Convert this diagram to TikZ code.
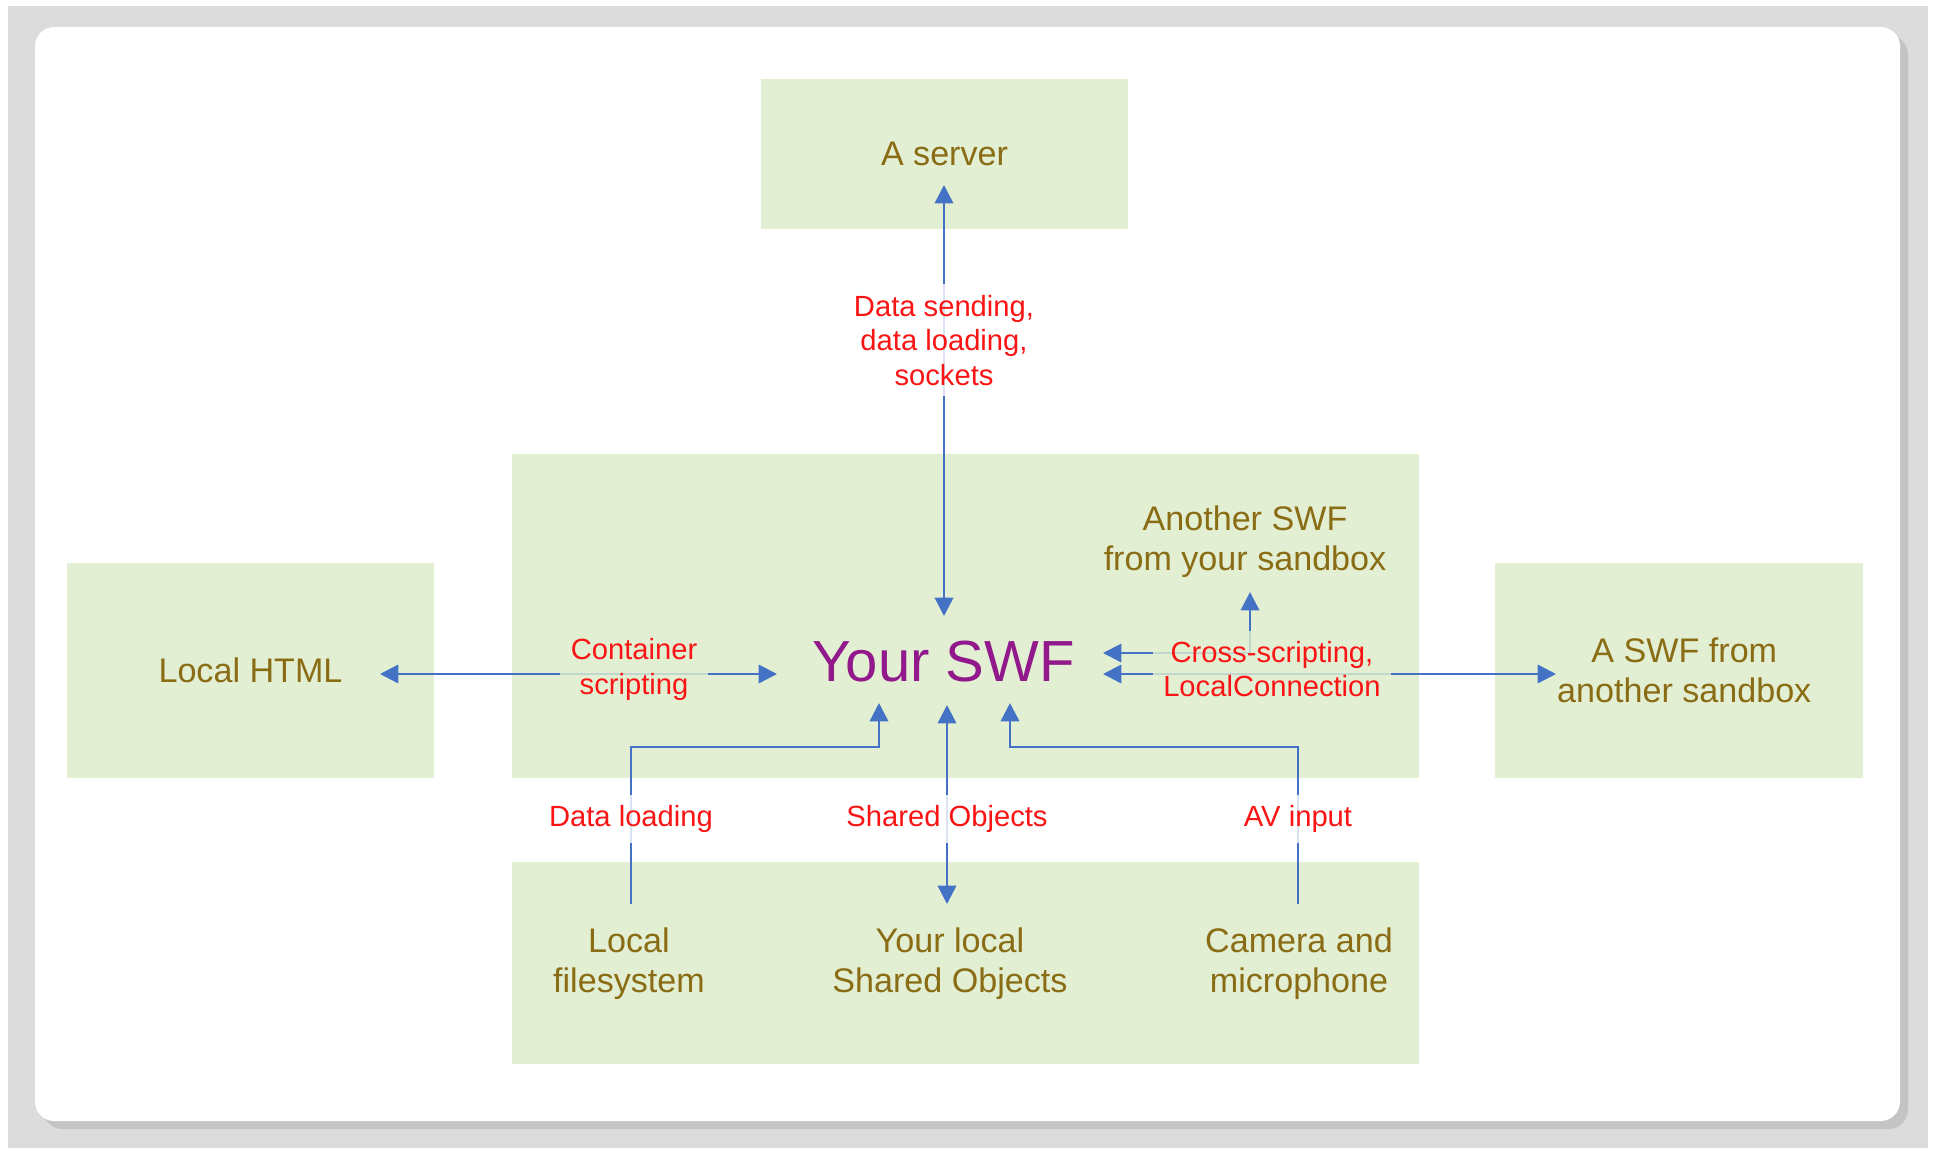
\documentclass[tikz,border=0pt]{standalone}
\usepackage{fontspec}
\setmainfont{Liberation Sans}
\usepackage{tikz}
\usetikzlibrary{arrows.meta}
\definecolor{boxgreen}{RGB}{226,239,211}
\definecolor{boxtext}{RGB}{138,108,20}
\definecolor{swfpurple}{RGB}{145,25,140}
\definecolor{flowblue}{RGB}{68,114,196}
\definecolor{labelred}{RGB}{250,20,20}
\definecolor{pagegray}{RGB}{220,220,220}
\definecolor{shadowgray}{RGB}{196,196,196}
\tikzset{
greenbox/.style={fill=boxgreen, inner sep=0pt, text=boxtext, font=\fontsize{9.7}{11.3}\selectfont, align=center},
boxlabel/.style={text=boxtext, font=\fontsize{9.7}{11.3}\selectfont, align=center, inner sep=1pt},
redlabel/.style={text=labelred, font=\fontsize{8.3}{9.8}\selectfont, align=center, fill=white, fill opacity=0.8, text opacity=1, inner sep=3pt},
flow/.style={draw=flowblue, line width=0.7pt, >={Triangle[length=5.2pt,width=5.2pt]}}
}

\begin{document}
\begin{tikzpicture}[x=0.01cm, y=-0.01cm]

    \useasboundingbox (0,0) rectangle (1933,1148);
    \fill[pagegray] (8,6) rectangle (1928,1148);
    \fill[shadowgray, rounded corners=5.5pt] (43,35) rectangle (1908,1129);
    \fill[white, rounded corners=5.5pt] (35,27) rectangle (1900,1121);

                \node[greenbox, minimum width=3.67cm, minimum height=1.5cm] (server) at (944.5,154) {A server};
                \node[greenbox, minimum width=9.07cm, minimum height=3.24cm] (main) at (965.5,616) {};
                \node[greenbox, minimum width=3.67cm, minimum height=2.15cm] (html) at (250.5,670.5) {Local HTML};
                \node[greenbox, minimum width=3.68cm, minimum height=2.15cm] (othersbx) at (1679,670.5) {\hspace{3pt}A SWF from\\\hspace{3pt}another sandbox};
                \node[greenbox, minimum width=9.07cm, minimum height=2.02cm] (local) at (965.5,963) {};

                \node[text=swfpurple, font=\fontsize{16.5}{18}\selectfont, inner sep=0pt] (swf) at (943.5,662) {Your SWF};
                \node[boxlabel] (another) at (1245,542) {Another SWF\\from your sandbox};
                \node[boxlabel] (files) at (629,964) {Local\\filesystem};
                \node[boxlabel] (shared) at (950,964) {Your local\\Shared Objects};
                \node[boxlabel] (camera) at (1299,964) {Camera and\\microphone};

                \coordinate (srvtip) at (944,185);
                \coordinate (swftop) at (944,616);
                \coordinate (htmltip) at (380,674);
                \coordinate (conttip) at (777,674);
                \coordinate (crosstipA) at (1103,653);
                \coordinate (crosstipB) at (1103,674);
                \coordinate (anothertip) at (1250,592);
                \coordinate (sbxtip) at (1556,674);
                \coordinate (filesfoot) at (631,904);
                \coordinate (filesbend) at (879,747);
                \coordinate (filestip) at (879,703);
                \coordinate (sharedtip) at (947,705);
                \coordinate (sharedfoot) at (947,904);
                \coordinate (camerafoot) at (1298,904);
                \coordinate (camerabend) at (1010,747);
                \coordinate (cameratip) at (1010,703);

                \draw[flow, <->] (anothertip) |- (crosstipA);
                \draw[flow, <->] (srvtip) -- (swftop) node[redlabel, pos=0.36] {Data sending,\\data loading,\\sockets};
                \draw[flow, <->] (htmltip) -- (conttip) node[redlabel, fill=boxgreen, pos=0.64, yshift=1.3pt] {Container\\scripting};
                \draw[flow, <->] (crosstipB) -- (sbxtip) node[redlabel, fill=boxgreen, pos=0.373, yshift=1.4pt] {Cross-scripting,\\LocalConnection};
                \draw[flow, ->] (filesfoot) |- node[redlabel, pos=0.27] {Data loading} (filesbend) -- (filestip);
                \draw[flow, <->] (sharedtip) -- (sharedfoot) node[redlabel, pos=0.573] {Shared Objects};
                \draw[flow, ->] (camerafoot) |- node[redlabel, pos=0.27] {AV input} (camerabend) -- (cameratip);

\end{tikzpicture}
\end{document}
